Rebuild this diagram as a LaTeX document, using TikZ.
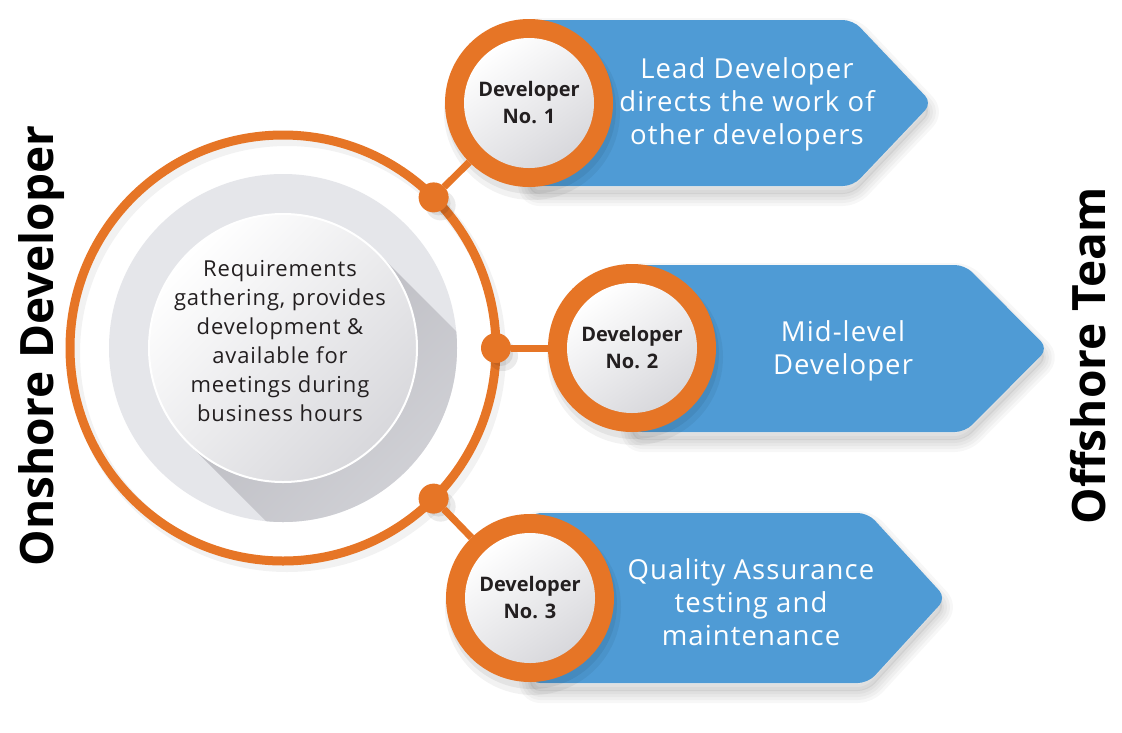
\documentclass[tikz,border=0pt]{standalone}
\usepackage{fontspec}
\setmainfont{Open Sans}
\newfontfamily\widefont[LetterSpace=4]{Open Sans}
\usetikzlibrary{calc}
\definecolor{orng}{RGB}{230,117,38}
\definecolor{blu}{RGB}{79,155,213}
\definecolor{ink}{RGB}{35,31,32}
\definecolor{diskgrey}{RGB}{229,230,234}
\definecolor{coregrey}{RGB}{216,216,220}
\definecolor{shadowgrey}{RGB}{186,186,192}
\newcommand\arrowpath[5]{(#1,#2) -- (#4,#2) -- (#5,{(#2+#3)/2}) -- (#4,#3) -- (#1,#3) -- cycle}
\tikzset{
  arrowshape/.style={fill=blu, rounded corners=10pt},
  devring/.style={circle, fill=orng, minimum size=168pt, inner sep=0pt, outer sep=0pt},
  devcore/.style={circle, minimum size=130pt, inner sep=0pt, top color=white, bottom color=coregrey, shading angle=35, text=ink, font=\bfseries\fontsize{20}{27}\selectfont, align=center},
  dotnode/.style={circle, fill=orng, minimum size=30pt, inner sep=0pt, outer sep=0pt},
  conn/.style={draw=orng, line width=7pt},
  btext/.style={text=white, font=\widefont\fontsize{27.5}{33}\selectfont, align=center},
  ctext/.style={text=ink, font=\widefont\fontsize{22}{29}\selectfont, align=center},
  side/.style={text=black, font=\bfseries\fontsize{46}{50}\selectfont, rotate=90, anchor=base},
}
\begin{document}
\begin{tikzpicture}[x=1pt,y=-1pt]
\useasboundingbox (0,0) rectangle (1122,732);
\fill[white] (0,0) rectangle (1122,732);

% blue arrows with soft shadows
\foreach \L/\T/\B/\K/\P in {529/20/186/853/932, 632/265/432/965/1048, 530/513/683/868/946}{
  \foreach \w in {4,10,16,22}{
    \draw[black, opacity=0.03, line width=\w pt, line join=round, rounded corners=10pt, shift={(0,9)}] \arrowpath{\L}{\T}{\B}{\K}{\P};
  }
  \fill[black, opacity=0.06, rounded corners=10pt, shift={(0,8)}] \arrowpath{\L}{\T}{\B}{\K}{\P};
  \fill[arrowshape] \arrowpath{\L}{\T}{\B}{\K}{\P};
}

% central disk
\coordinate (C) at (283,348);
\fill[diskgrey] (C) circle (174pt);
\begin{scope}
  \clip (C) circle (174pt);
  \shade[top color=shadowgrey, bottom color=diskgrey, shading angle=45]
    ($(C)+(95,-95)$) -- ($(C)+(345,155)$) -- ($(C)+(155,345)$) -- ($(C)+(-95,95)$) -- cycle;
\end{scope}
\node[circle, minimum size=268pt, inner sep=0pt, top color=white, bottom color=coregrey, shading angle=45, draw=white, line width=2pt] (core) at (C) {};
\node[ctext] (req) at (280,341) {Requirements\\gathering, provides\\development \&\\available for\\meetings during\\business hours};

% outer ring
\draw[black, opacity=0.05, line width=12pt] ($(C)+(4,5)$) circle (213pt);
\node[circle, draw=orng, line width=9pt, minimum size=426pt, inner sep=0pt, outer sep=0pt] (ring) at (C) {};

% dot shadows and dots
\foreach \a in {45,0,-45}{
  \fill[black, opacity=0.08] ($(ring.\a)+(7,8)$) circle (15pt);
  \fill[black, opacity=0.08] ($(ring.\a)+(5,6)$) circle (12pt);
}
\node[dotnode] (p1) at (ring.45) {};
\node[dotnode] (p2) at (ring.0) {};
\node[dotnode] (p3) at (ring.-45) {};

% developer circles
\foreach \x/\y in {529/103, 632/348, 530/598}{
  \fill[black, opacity=0.05] (\x+3,\y+9) circle (88pt);
  \fill[black, opacity=0.06] (\x+2,\y+6) circle (85pt);
}
\node[devring] (d1) at (529,103) {};
\node[devring] (d2) at (632,348) {};
\node[devring] (d3) at (530,598) {};
\draw[conn] (p1) -- (d1);
\draw[conn] (p2) -- (d2);
\draw[conn] (p3) -- (d3);
\node[devcore] (c1) at (d1) {Developer\\No. 1};
\node[devcore] (c2) at (d2) {Developer\\No. 2};
\node[devcore] (c3) at (d3) {Developer\\No. 3};

% arrow texts
\node[btext] (t1) at (747,104) {Lead Developer\\directs the work of\\other developers};
\node[btext] (t2) at (843,351) {Mid-level\\Developer};
\node[btext] (t3) at (751,602) {Quality Assurance\\testing and\\maintenance};

% side labels
\node[side] (onshore) at (53,346) {Onshore Developer};
\node[side] (offshore) at (1105,356) {Offshore Team};
\end{tikzpicture}
\end{document}
